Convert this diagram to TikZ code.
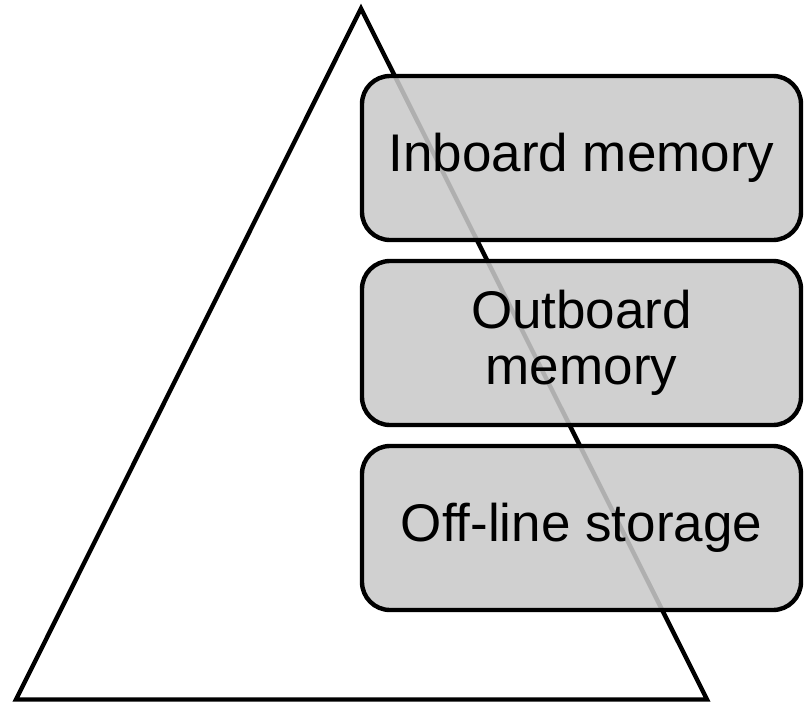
\documentclass[tikz,border=0pt]{standalone}
\usepackage{fontspec}
\setmainfont{Liberation Sans}
\usepackage{xcolor}
\usepackage{tikz}
\tikzset{>=latex}
\definecolor{boxgray}{gray}{0.79}

\begin{document}
\begin{tikzpicture}[x=1pt, y=-1pt,
    level/.style={draw, line width=4.4pt, rounded corners=28pt, fill=boxgray,
        fill opacity=0.875, text opacity=1, align=center,
        minimum width=439pt, minimum height=164pt, inner sep=0pt,
        font=\fontsize{53}{56}\selectfont}]
    \useasboundingbox (0,0) rectangle (804,702);

    % the pyramid
    \coordinate (apex) at (361,8.5);
    \coordinate (baseL) at (16,699.5);
    \coordinate (baseR) at (707,699.5);
    \draw[line width=4.4pt, line join=miter] (apex) -- (baseR) -- (baseL) -- cycle;

    % levels of the hierarchy
    \node[level] at (581.5,158) (inboard) {Inboard memory};
    \node[level] at (581.5,343) (outboard) {Outboard\\memory};
    \node[level] at (581.5,528) (offline) {Off-line storage};
\end{tikzpicture}
\end{document}
